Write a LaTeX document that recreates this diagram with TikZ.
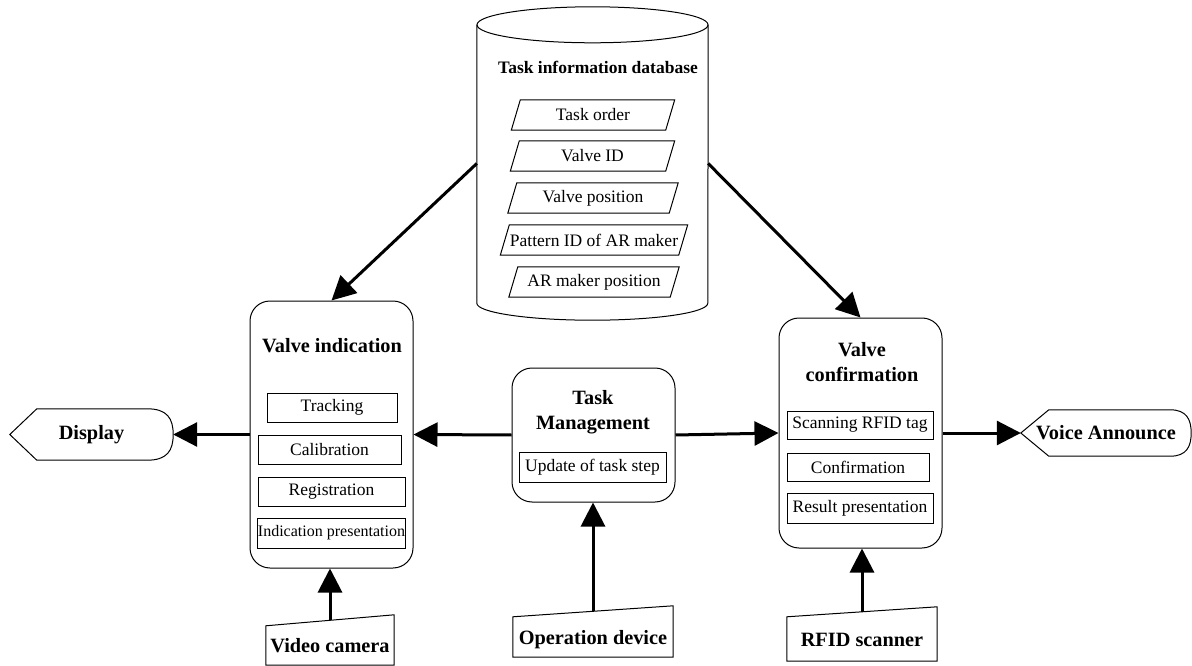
\documentclass[tikz,border=0pt]{standalone}
\usepackage{fontspec}
\setmainfont{Liberation Serif}
\usetikzlibrary{arrows.meta,calc}
\begin{document}
\begin{tikzpicture}[x=1pt,y=-1pt,
  outl/.style={draw, line width=1pt},
  arr/.style={line width=3pt, -{Triangle[length=24pt,width=24pt]}},
  lbl/.style={font=\bfseries\fontsize{20.3}{25}\selectfont, align=center},
  txt/.style={font=\fontsize{17.5}{20}\selectfont},
  ibox/.style={draw, line width=1pt, inner sep=0pt, minimum height=29pt, font=\fontsize{17.5}{20}\selectfont},
  rbox/.style={draw, line width=1pt, rounded corners=20pt, minimum width=163pt, inner sep=0pt},
  ghost/.style={inner sep=0pt},
  minput/.style={ghost, lbl, text height=22pt, text depth=2pt}
]
\useasboundingbox (0,0) rectangle (1192,666);

% database cylinder
\node[ghost, minimum width=231pt, minimum height=313pt] (db) at (592.5,163.5) {};
\draw[outl] ($(db.north west)+(0,18)$) -- ($(db.south west)+(0,-17)$)
  arc[start angle=180, end angle=360, x radius=115.5pt, y radius=17pt]
  -- ($(db.north east)+(0,18)$);
\draw[outl] ($(db.north)+(0,18)$) ellipse [x radius=115.5pt, y radius=18pt];
\node[font=\bfseries\fontsize{17.5}{20}\selectfont] (dbt) at (598,67) {Task information database};

\node[ghost, txt, minimum width=154pt, minimum height=30pt] (p1) at (593,115) {Task order};
\node[ghost, txt, minimum width=155pt, minimum height=30pt] (p2) at (592.5,156) {Valve ID};
\node[ghost, txt, minimum width=161pt, minimum height=30pt] (p3) at (593,198) {Valve position};
\node[ghost, txt, minimum width=178pt, minimum height=30pt] (p4) at (594,240) {Pattern ID of AR maker};
\node[ghost, txt, minimum width=161pt, minimum height=30pt] (p5) at (594,282) {AR maker position};
\foreach \n in {p1,p2,p3,p4,p5}
  \draw[outl] ($(\n.south west)+(-4.5,0)$) -- ($(\n.north west)+(4.5,0)$)
    -- ($(\n.north east)+(4.5,0)$) -- ($(\n.south east)+(-4.5,0)$) -- cycle;

% Valve indication
\node[rbox, minimum height=267pt] (vi) at (331.5,434.5) {};
\node[lbl] (vit) at (332,346) {Valve indication};
\node[ibox, minimum width=130pt] (trk) at (332,407.5) {Tracking};
\node[ibox, minimum width=143pt] (cal) at (329.5,449.5) {Calibration};
\node[ibox, minimum width=147pt] (reg) at (331.5,491.5) {Registration};
\node[ibox, minimum width=147pt, minimum height=30pt, font=\fontsize{16}{18}\selectfont] (ind) at (331.5,533) {Indication presentation};

% Task Management
\node[rbox, minimum height=134pt] (tm) at (593.5,435) {};
\node[lbl] (tmt) at (593,412.5) {Task\\Management};
\node[ibox, minimum width=147pt, minimum height=30pt] (upd) at (592.5,467) {Update of task step};

% Valve confirmation
\node[rbox, minimum height=230pt] (vcf) at (860.5,433) {};
\node[lbl] (vcft) at (862,362.5) {Valve\\confirmation};
\node[ibox, minimum width=146pt, minimum height=28pt] (scan) at (860,425) {Scanning RFID tag};
\node[ibox, minimum width=142pt, minimum height=28pt] (conf) at (858,467) {Confirmation};
\node[ibox, minimum width=146pt, minimum height=30pt] (res) at (860,508) {Result presentation};

% Display
\node[ghost, lbl, minimum width=163pt, minimum height=51pt] (disp) at (91.5,434.5) {Display};
\draw[outl] (disp.west) -- ($(disp.north west)+(27,0)$) -- ($(disp.north east)+(-26,0)$)
  .. controls ($(disp.north east)+(-6,0)$) and ($(disp.east)+(0,-16)$) .. (disp.east)
  .. controls ($(disp.east)+(0,16)$) and ($(disp.south east)+(-6,0)$) .. ($(disp.south east)+(-26,0)$)
  -- ($(disp.south west)+(27,0)$) -- cycle;

% Voice Announce
\node[ghost, lbl, minimum width=170pt, minimum height=46pt] (va) at (1106,433) {Voice Announce};
\draw[outl] (va.west) -- ($(va.north west)+(28,0)$) -- ($(va.north east)+(-21,0)$)
  .. controls ($(va.north east)+(-5,0)$) and ($(va.east)+(0,-14)$) .. (va.east)
  .. controls ($(va.east)+(0,14)$) and ($(va.south east)+(-5,0)$) .. ($(va.south east)+(-21,0)$)
  -- ($(va.south west)+(28,0)$) -- cycle;

% manual inputs
\node[minput, minimum width=128pt, minimum height=44.5pt] (cam) at (330,642.75) {Video camera};
\draw[outl] (cam.south west) -- ($(cam.north west)+(0,5.5)$) -- ($(cam.north east)+(0,-5.5)$) -- (cam.south east) -- cycle;
\node[minput, minimum width=160pt, minimum height=45.5pt] (op) at (593,634.25) {Operation device};
\draw[outl] (op.south west) -- ($(op.north west)+(0,5.5)$) -- ($(op.north east)+(0,-5.5)$) -- (op.south east) -- cycle;
\node[minput, minimum width=150pt, minimum height=49pt] (rfid) at (862,636.5) {RFID scanner};
\draw[outl] (rfid.south west) -- ($(rfid.north west)+(0,5)$) -- ($(rfid.north east)+(0,-5)$) -- (rfid.south east) -- cycle;

% arrows
\draw[arr] (vi.west) -- (disp.east);
\draw[arr] (tm.west) -- (vi.east);
\draw[arr] (tm.east) -- (vcf.west);
\draw[arr] (vcf.east) -- (va.west);
\draw[arr] (db.west) -- (vi.north);
\draw[arr] (db.east) -- (vcf.north);
\draw[arr] (cam.north) -- (cam.north |- vi.south);
\draw[arr] (op.north) -- (op.north |- tm.south);
\draw[arr] (rfid.north) -- (rfid.north |- vcf.south);
\end{tikzpicture}
\end{document}
